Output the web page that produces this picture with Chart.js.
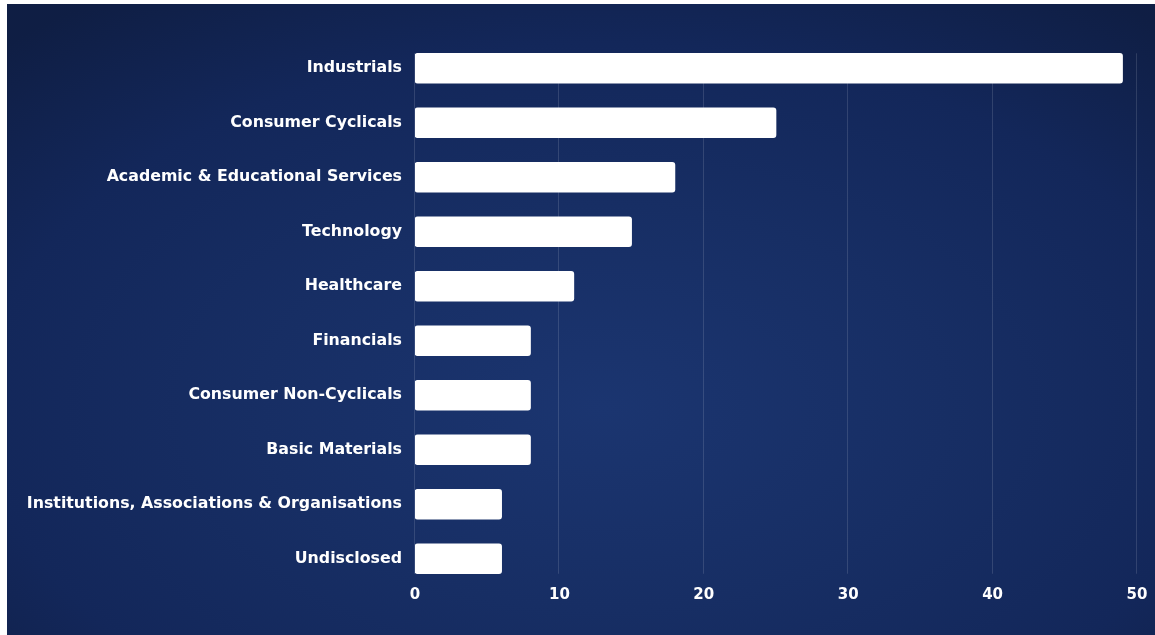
<!DOCTYPE html>
<html>
<head>
<meta charset="utf-8">
<script src="https://cdn.jsdelivr.net/npm/chart.js@4.4.1/dist/chart.umd.min.js"></script>
<style>
  html, body { margin: 0; padding: 0; background: #ffffff; overflow: hidden; }
  #wrap {
    position: fixed; left: 7px; top: 4px; right: 0; bottom: 0;
    background: radial-gradient(ellipse 75% 80% at 52% 64%, #1b3570 0%, #172e64 40%, #13275a 72%, #0f1e44 100%);
  }
  canvas { position: absolute; left: 0; top: 0; display: block; }
</style>
</head>
<body>
<div id="wrap"><canvas id="c" width="1148" height="631"></canvas></div>
<script>
const categories = [
  "Industrials",
  "Consumer Cyclicals",
  "Academic & Educational Services",
  "Technology",
  "Healthcare",
  "Financials",
  "Consumer Non-Cyclicals",
  "Basic Materials",
  "Institutions, Associations & Organisations",
  "Undisclosed"
];
const values = [49, 25, 18, 15, 11, 8, 8, 8, 6, 6];
const xTicks = [0, 10, 20, 30, 40, 50];

const FONT = "'DejaVu Sans', 'Open Sans', sans-serif";

const gridPlugin = {
  id: 'customGrid',
  beforeDatasetsDraw(chart) {
    const ctx = chart.ctx;
    const xs = chart.scales.x;
    const meta = chart.getDatasetMeta(0);
    const first = meta.data[0], last = meta.data[meta.data.length - 1];
    const top = first.y - first.height / 2;
    const bottom = last.y + last.height / 2;
    ctx.save();
    ctx.strokeStyle = 'rgba(255,255,255,0.13)';
    ctx.lineWidth = 1;
    xTicks.forEach(t => {
      const x = Math.round(xs.getPixelForValue(t)) - 0.5;
      ctx.beginPath();
      ctx.moveTo(x, top);
      ctx.lineTo(x, bottom);
      ctx.stroke();
    });
    ctx.restore();
  }
};

new Chart(document.getElementById('c'), {
  type: 'bar',
  data: {
    labels: categories,
    datasets: [{
      data: values,
      backgroundColor: '#ffffff',
      borderWidth: 0,
      borderRadius: 3,
      borderSkipped: false,
      barThickness: 30
    }]
  },
  options: {
    indexAxis: 'y',
    responsive: false,
    animation: false,
    layout: { padding: { top: 37, right: 18, bottom: 31, left: 0 } },
    plugins: { legend: { display: false }, tooltip: { enabled: false } },
    scales: {
      x: {
        min: 0, max: 50,
        afterBuildTicks(scale) { scale.ticks = xTicks.map(v => ({ value: v })); },
        grid: { display: false, drawTicks: false, tickLength: 0 },
        border: { display: false },
        ticks: { color: '#ffffff', font: { family: FONT, size: 15, weight: '700' }, padding: 0 }
      },
      y: {
        afterFit(scale) { scale.width = 408; },
        grid: { display: false, drawTicks: false, tickLength: 0 },
        border: { display: false },
        ticks: { color: '#ffffff', font: { family: FONT, size: 15.8, weight: '700' }, padding: 13 }
      }
    }
  },
  plugins: [gridPlugin]
});
</script>
</body>
</html>
